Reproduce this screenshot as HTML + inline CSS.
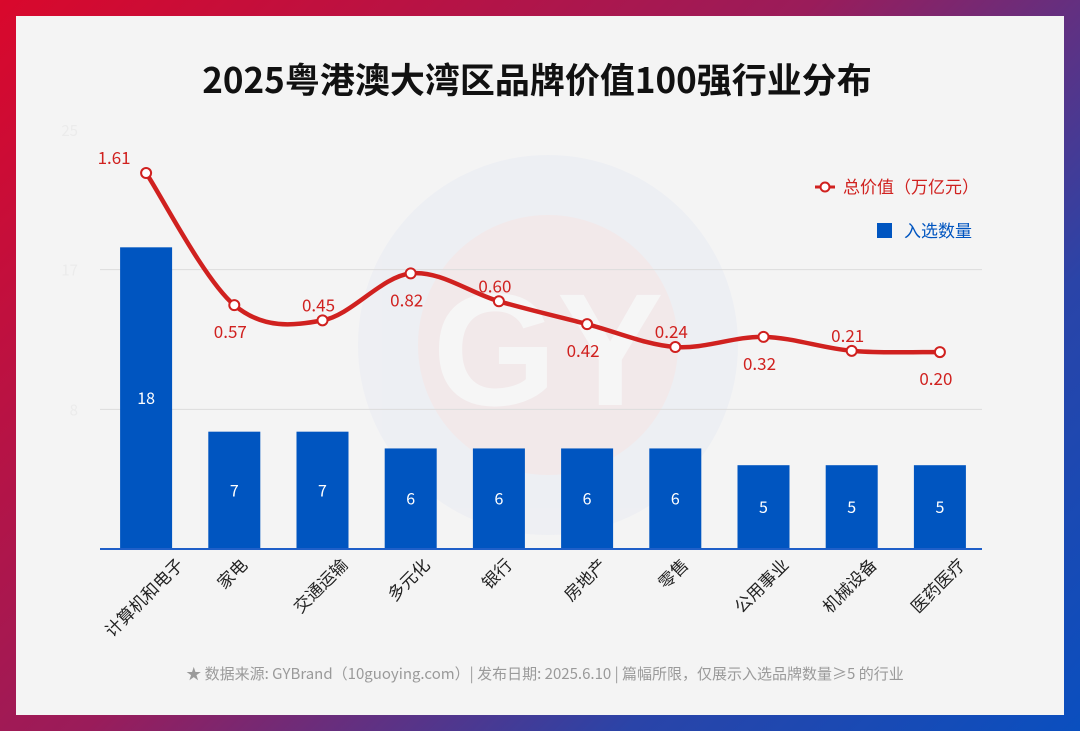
<!DOCTYPE html>
<html><head><meta charset="utf-8"><style>
body{margin:0;width:1080px;height:731px;overflow:hidden;font-family:"Noto Sans CJK SC","Liberation Sans",sans-serif}
#bg{position:absolute;left:0;top:0;width:1080px;height:731px;background:linear-gradient(135deg,#d9082c 0%,#9a1c5a 45%,#2a44a8 75%,#0a4fbf 100%)}
#card{position:absolute;left:16px;top:16px;width:1048px;height:699px;background:#f4f4f4}
svg{position:absolute;left:0;top:0}
</style></head><body>
<div id="bg"></div>
<div id="card"></div>
<svg id="chart" width="1080" height="731" font-family="Noto Sans CJK SC, Liberation Sans, sans-serif">
<g opacity="0.45">
<circle cx="548" cy="345" r="190" fill="#e6e9f2"/>
<circle cx="548" cy="345" r="130" fill="#f0dde0"/>
<text x="548" y="405" text-anchor="middle" font-size="160" font-weight="bold" fill="#f9f9f9" font-family="Liberation Sans,sans-serif">GY</text>
</g>
<text x="537" y="93" text-anchor="middle" font-size="35" font-weight="bold" fill="#111">2025粤港澳大湾区品牌价值100强行业分布</text>
<g id="grid"></g><g id="bars"></g><g id="line"></g><g id="xlabels"></g>
<g>
<g>
<line x1="815" y1="187" x2="835" y2="187" stroke="#d0211f" stroke-width="3"/>
<circle cx="825" cy="187" r="4.5" fill="#fff" stroke="#d0211f" stroke-width="2"/>
<text x="843" y="193" font-size="17" fill="#d0211f">总价值（万亿元）</text></g>
<g>
<rect x="877" y="223" width="15" height="15" fill="#0055c0"/>
<text x="904" y="237" font-size="17" fill="#0055c0">入选数量</text></g>
</g>
<text x="545" y="679" text-anchor="middle" font-size="15" fill="#9a9a9a">★ 数据来源: GYBrand（10guoying.com）| 发布日期: 2025.6.10 | 篇幅所限，仅展示入选品牌数量≥5 的行业</text>
</svg>
<script>
const categories=["计算机和电子","家电","交通运输","多元化","银行","房地产","零售","公用事业","机械设备","医药医疗"];
const counts=[18,7,7,6,6,6,6,5,5,5];
const values=[1.61,0.57,0.45,0.82,0.60,0.42,0.24,0.32,0.21,0.20];
const valueLabels=["1.61","0.57","0.45","0.82","0.60","0.42","0.24","0.32","0.21","0.20"];
const labelAbove=[true,false,true,false,true,false,true,false,true,false];
const yTicks=[8,17,25];
const NS="http://www.w3.org/2000/svg";
const L=100,R=982,base=549,barMax=25,pxPerBar=(549-130)/25;
const band=(R-L)/categories.length;
const x=i=>L+band*(i+0.5)+2;
const yb=v=>base-v*pxPerBar;
const yl=v=>377.5-127*v;
function mk(t,a,p){const e=document.createElementNS(NS,t);for(const k in a)e.setAttribute(k,a[k]);p.appendChild(e);return e;}
const grid=document.getElementById('grid');
yTicks.forEach((t,i)=>{const yy=yb(barMax*(i+1)/3);
 if(i<2){const g=mk('line',{x1:L,x2:R,y1:yy,y2:yy,stroke:'#dcdcdc','stroke-width':1},grid);
 
 }
 const tx=mk('text',{x:78,y:yy+6,'text-anchor':'end','font-size':15,fill:'#ebebeb'},grid);tx.textContent=t;
 
 
});
const bars=document.getElementById('bars');
counts.forEach((c,i)=>{
 const r=mk('rect',{x:x(i)-26,y:yb(c),width:52,height:base-yb(c),fill:'#0055c0'},bars);
 
 
 const t=mk('text',{x:x(i),y:(yb(c)+base)/2+6,'text-anchor':'middle','font-size':16,fill:'#fff'},bars);t.textContent=c;
 
 
});
const ax=mk('line',{x1:L,x2:R,y1:base,y2:base,stroke:'#1f5fc8','stroke-width':2},bars);


const lg=document.getElementById('line');
const pts=values.map((v,i)=>[x(i),yl(v)]);
let d='M'+pts[0][0]+','+pts[0][1];
for(let i=0;i<pts.length-1;i++){const p0=pts[Math.max(0,i-1)],p1=pts[i],p2=pts[i+1],p3=pts[Math.min(pts.length-1,i+2)];
 const c1=[p1[0]+(p2[0]-p0[0])/6,p1[1]+(p2[1]-p0[1])/6],c2=[p2[0]-(p3[0]-p1[0])/6,p2[1]-(p3[1]-p1[1])/6];
 d+=` C${c1[0]},${c1[1]} ${c2[0]},${c2[1]} ${p2[0]},${p2[1]}`;}
const path=mk('path',{d:d,fill:'none',stroke:'#d0211f','stroke-width':4.5},lg);


pts.forEach((p,i)=>{
 const c=mk('circle',{cx:p[0],cy:p[1],r:5,fill:'#fff',stroke:'#d0211f','stroke-width':2},lg);
 
 
 const lx=i===0?p[0]-32:p[0]-4;
 const t=mk('text',{x:lx,y:labelAbove[i]?p[1]-9:p[1]+33,'text-anchor':'middle','font-size':17,fill:'#d0211f'},lg);t.textContent=valueLabels[i];
 
 
});
const xl=document.getElementById('xlabels');
categories.forEach((c,i)=>{
 const w=c.length*17;
 const cx=x(i)-2, cy=562+w*0.35;
 const t=mk('text',{x:cx,y:cy+6,'text-anchor':'middle','font-size':17,fill:'#222',transform:`rotate(-45 ${cx} ${cy})`},xl);t.textContent=c;
 
 
});
</script>
</body></html>
